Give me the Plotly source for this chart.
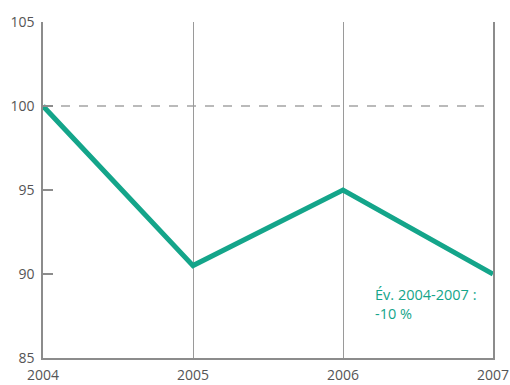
import plotly.graph_objects as go

years = [2004, 2005, 2006, 2007]
index_values = [100, 90.5, 95, 90]
y_ticks = [85, 90, 95, 100, 105]
reference_level = 100
note_text = "Év. 2004-2007 :<br>-10 %"

teal = "#14a58a"
axis_grey = "#8c8c8c"
label_grey = "#555555"
font_family = "Open Sans"

fig = go.Figure()
fig.add_trace(go.Scatter(
    x=years, y=index_values, mode="lines",
    line=dict(color=teal, width=5), hoverinfo="skip", showlegend=False,
))

# dashed base-100 reference
fig.add_shape(type="line", xref="x", yref="y",
              x0=years[0], x1=years[-1], y0=reference_level, y1=reference_level,
              line=dict(color="#777777", width=1.2, dash="dash"), layer="below")

fig.add_annotation(x=2006.2, y=88.2, xref="x", yref="y", text=note_text,
                   showarrow=False, xanchor="left", yanchor="middle", align="left",
                   font=dict(color=teal, size=14.5, family=font_family))

fig.update_xaxes(range=[2004, 2007], tickvals=years, ticktext=[str(y) for y in years],
                 showgrid=True, gridcolor="#9a9a9a", gridwidth=1.3,
                 showline=True, linecolor=axis_grey, linewidth=1.5,
                 ticks="", zeroline=False, ticklabelstandoff=3, automargin=False,
                 tickfont=dict(size=14, color=label_grey, family=font_family))
fig.update_yaxes(range=[85, 105], tickvals=y_ticks, showgrid=False,
                 showline=True, mirror=True, linecolor=axis_grey, linewidth=1.5,
                 ticks="inside", ticklen=10, tickcolor=axis_grey, tickwidth=1.5,
                 zeroline=False, ticklabelstandoff=4, automargin=False,
                 tickfont=dict(size=14, color=label_grey, family=font_family))

fig.update_layout(width=510, height=385, margin=dict(l=43, r=17, t=22, b=27),
                  plot_bgcolor="white", paper_bgcolor="white")

fig.write_html("out.html")
